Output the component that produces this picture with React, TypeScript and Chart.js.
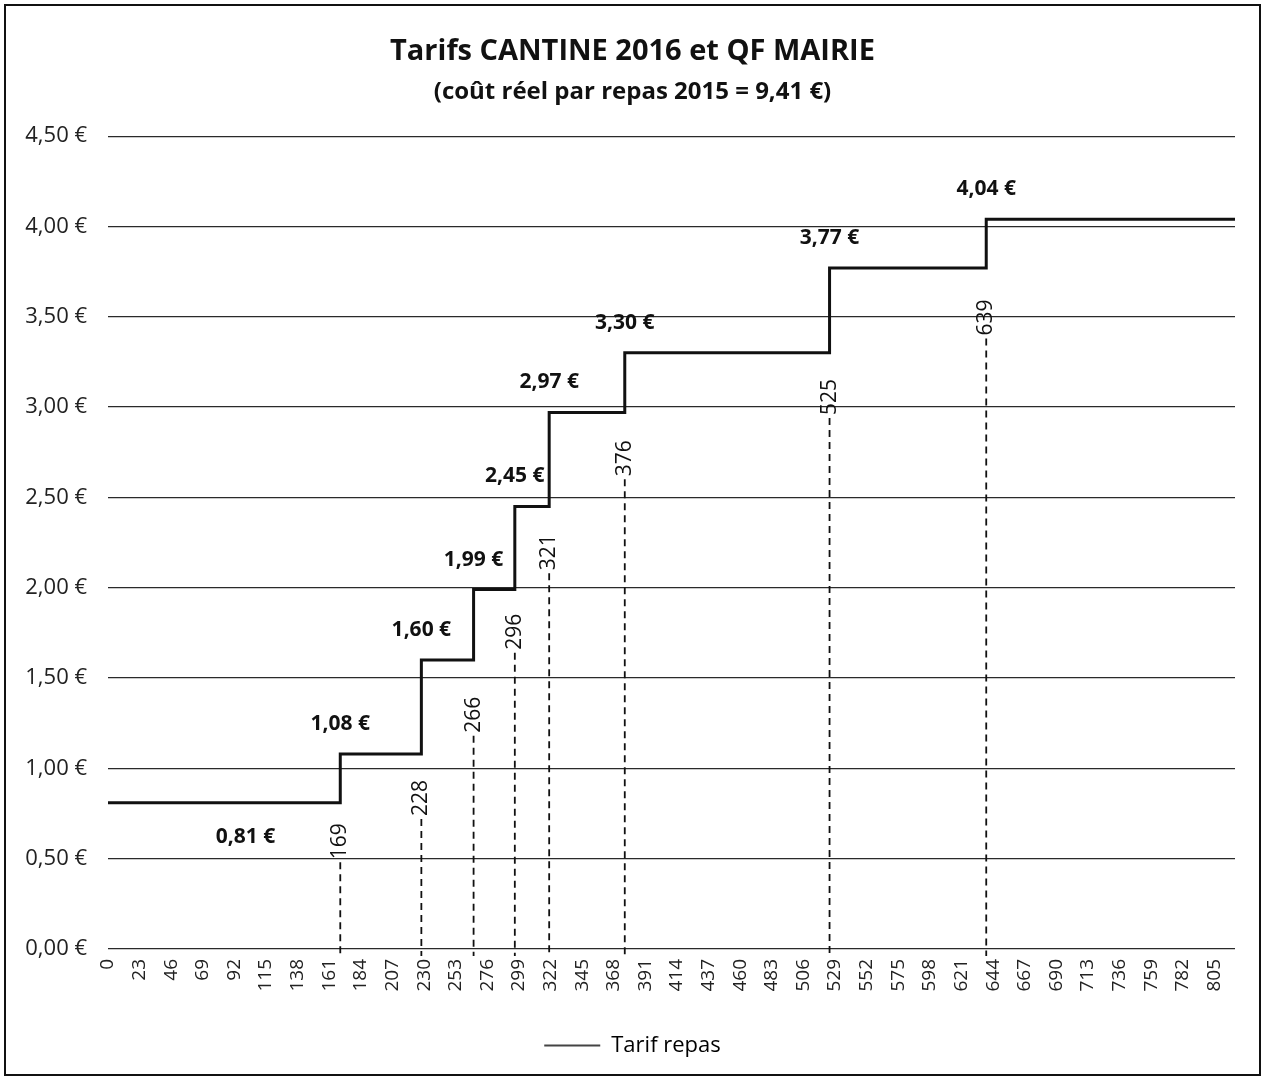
import React, { useEffect, useRef } from "react";
import { Chart, registerables } from "chart.js";

Chart.register(...registerables);

// ---- Data ----
const qfThresholds = [0, 169, 228, 266, 296, 321, 376, 525, 639];
const tariffs = [0.81, 1.08, 1.6, 1.99, 2.45, 2.97, 3.3, 3.77, 4.04];
const qfMax = 820;
const firstTariffLabelQF = 100;
const markerQF = [169, 228, 266, 296, 321, 376, 525, 639];
const markerLevels = [0.48, 0.72, 1.18, 1.64, 2.08, 2.6, 2.94, 3.38];
const xTickValues = [
  0, 23, 46, 69, 92, 115, 138, 161, 184, 207, 230, 253, 276, 299, 322, 345, 368,
  391, 414, 437, 460, 483, 506, 529, 552, 575, 598, 621, 644, 667, 690, 713, 736,
  759, 782, 805,
];
const yTickValues = [0, 0.5, 1, 1.5, 2, 2.5, 3, 3.5, 4, 4.5];
const seriesName = "Tarif repas";
const titleText = "Tarifs CANTINE 2016 et QF MAIRIE";
const subtitleText = "(coût réel par repas 2015 = 9,41 €)";

const FONT = "'Open Sans', Lato, sans-serif";

const euro = (v: number) => v.toFixed(2).replace(".", ",") + " €";

const annotations = {
  id: "annotations",
  beforeDraw(chart: any) {
    const { ctx, width, height } = chart;
    ctx.save();
    ctx.fillStyle = "#ffffff";
    ctx.fillRect(0, 0, width, height);
    ctx.restore();
  },
  afterDatasetsDraw(chart: any) {
    const { ctx } = chart;
    const xs = chart.scales.x;
    const ys = chart.scales.y;
    const y0 = ys.getPixelForValue(0);
    ctx.save();
    // dashed drop lines + vertical QF labels
    markerQF.forEach((q, i) => {
      const px = xs.getPixelForValue(q);
      const py = ys.getPixelForValue(markerLevels[i]);
      ctx.beginPath();
      ctx.setLineDash([7, 5]);
      ctx.lineWidth = 1.8;
      ctx.strokeStyle = "#111";
      ctx.moveTo(px, py);
      ctx.lineTo(px, y0 + 7);
      ctx.stroke();
      ctx.setLineDash([]);
      ctx.save();
      ctx.translate(px, py - 3);
      ctx.rotate(-Math.PI / 2);
      ctx.font = `21px ${FONT}`;
      ctx.fillStyle = "#111";
      ctx.textAlign = "left";
      ctx.textBaseline = "middle";
      ctx.fillText(String(q), 0, 0);
      ctx.restore();
    });
    // tariff labels
    ctx.font = `bold 21px ${FONT}`;
    ctx.fillStyle = "#111";
    ctx.textAlign = "center";
    ctx.textBaseline = "middle";
    tariffs.forEach((t, i) => {
      const q = i === 0 ? firstTariffLabelQF : qfThresholds[i];
      const px = xs.getPixelForValue(q);
      const py = ys.getPixelForValue(t) + (i === 0 ? 34 : -30);
      ctx.fillText(euro(t), px, py);
    });
    ctx.restore();
  },
  afterDraw(chart: any) {
    const { ctx, width, height } = chart;
    ctx.save();
    ctx.strokeStyle = "#111";
    ctx.lineWidth = 2;
    ctx.strokeRect(5, 5, width - 10, height - 9);
    ctx.restore();
  },
};

export default function App() {
  const ref = useRef<HTMLCanvasElement | null>(null);

  useEffect(() => {
    document.body.style.margin = "0";
    if (!ref.current) return;
    const points = qfThresholds.map((q, i) => ({ x: q, y: tariffs[i] }));
    points.push({ x: qfMax, y: tariffs[tariffs.length - 1] });

    const chart = new Chart(ref.current, {
      type: "line",
      data: {
        datasets: [
          {
            label: seriesName,
            data: points,
            stepped: true,
            borderColor: "#111",
            borderWidth: 3,
            pointRadius: 0,
            fill: false,
            xAxisID: "x",
            yAxisID: "y",
          },
        ],
      },
      options: {
        animation: false,
        responsive: false,
        layout: { padding: { top: 20, left: 0, right: 0, bottom: 12.5 } },
        scales: {
          x: {
            type: "linear",
            min: 0,
            max: qfMax,
            afterBuildTicks: (scale: any) => {
              scale.ticks = xTickValues.map((v) => ({ value: v }));
            },
            afterFit: (scale: any) => {
              scale.height = 75.5;
            },
            grid: { display: false, drawTicks: false },
            border: { display: false },
            ticks: {
              autoSkip: false,
              minRotation: 90,
              maxRotation: 90,
              padding: 10,
              color: "#222",
              font: { family: FONT, size: 19 },
              callback: (v: any) => String(v),
            },
          },
          y: {
            min: 0,
            max: 4.5,
            afterBuildTicks: (scale: any) => {
              scale.ticks = yTickValues.map((v) => ({ value: v }));
            },
            afterFit: (scale: any) => {
              scale.width = 108;
            },
            grid: { color: "#2a2a2a", lineWidth: 1.2, drawTicks: false },
            border: { display: false },
            ticks: {
              padding: 21,
              color: "#222",
              font: { family: FONT, size: 22 },
              callback: (v: any) => euro(Number(v)),
            },
          },
          yRight: {
            type: "linear",
            position: "right",
            min: 0,
            max: 4.5,
            afterFit: (scale: any) => {
              scale.width = 30;
            },
            grid: { display: false, drawTicks: false },
            border: { display: false },
            ticks: { display: false },
          },
        },
        plugins: {
          title: {
            display: true,
            text: titleText,
            color: "#111",
            font: { family: FONT, size: 29, weight: "bold" },
            padding: { top: 14, bottom: 0 },
          },
          subtitle: {
            display: true,
            text: subtitleText,
            color: "#111",
            font: { family: FONT, size: 24, weight: "bold" },
            padding: { top: 9, bottom: 29.5 },
          },
          legend: {
            display: true,
            position: "bottom",
            labels: {
              usePointStyle: true,
              pointStyleWidth: 56,
              color: "#111",
              font: { family: FONT, size: 22 },
              padding: 10,
              generateLabels: () => [
                {
                  text: seriesName,
                  strokeStyle: "#444",
                  fillStyle: "#444",
                  lineWidth: 2,
                  pointStyle: "line",
                  hidden: false,
                  datasetIndex: 0,
                } as any,
              ],
            },
          },
          tooltip: { enabled: false },
        },
      },
      plugins: [annotations],
    } as any);
    return () => chart.destroy();
  }, []);

  return (
    <div style={{ width: 1265, height: 1079 }}>
      <canvas ref={ref} width={1265} height={1079} style={{ display: "block" }} />
    </div>
  );
}
